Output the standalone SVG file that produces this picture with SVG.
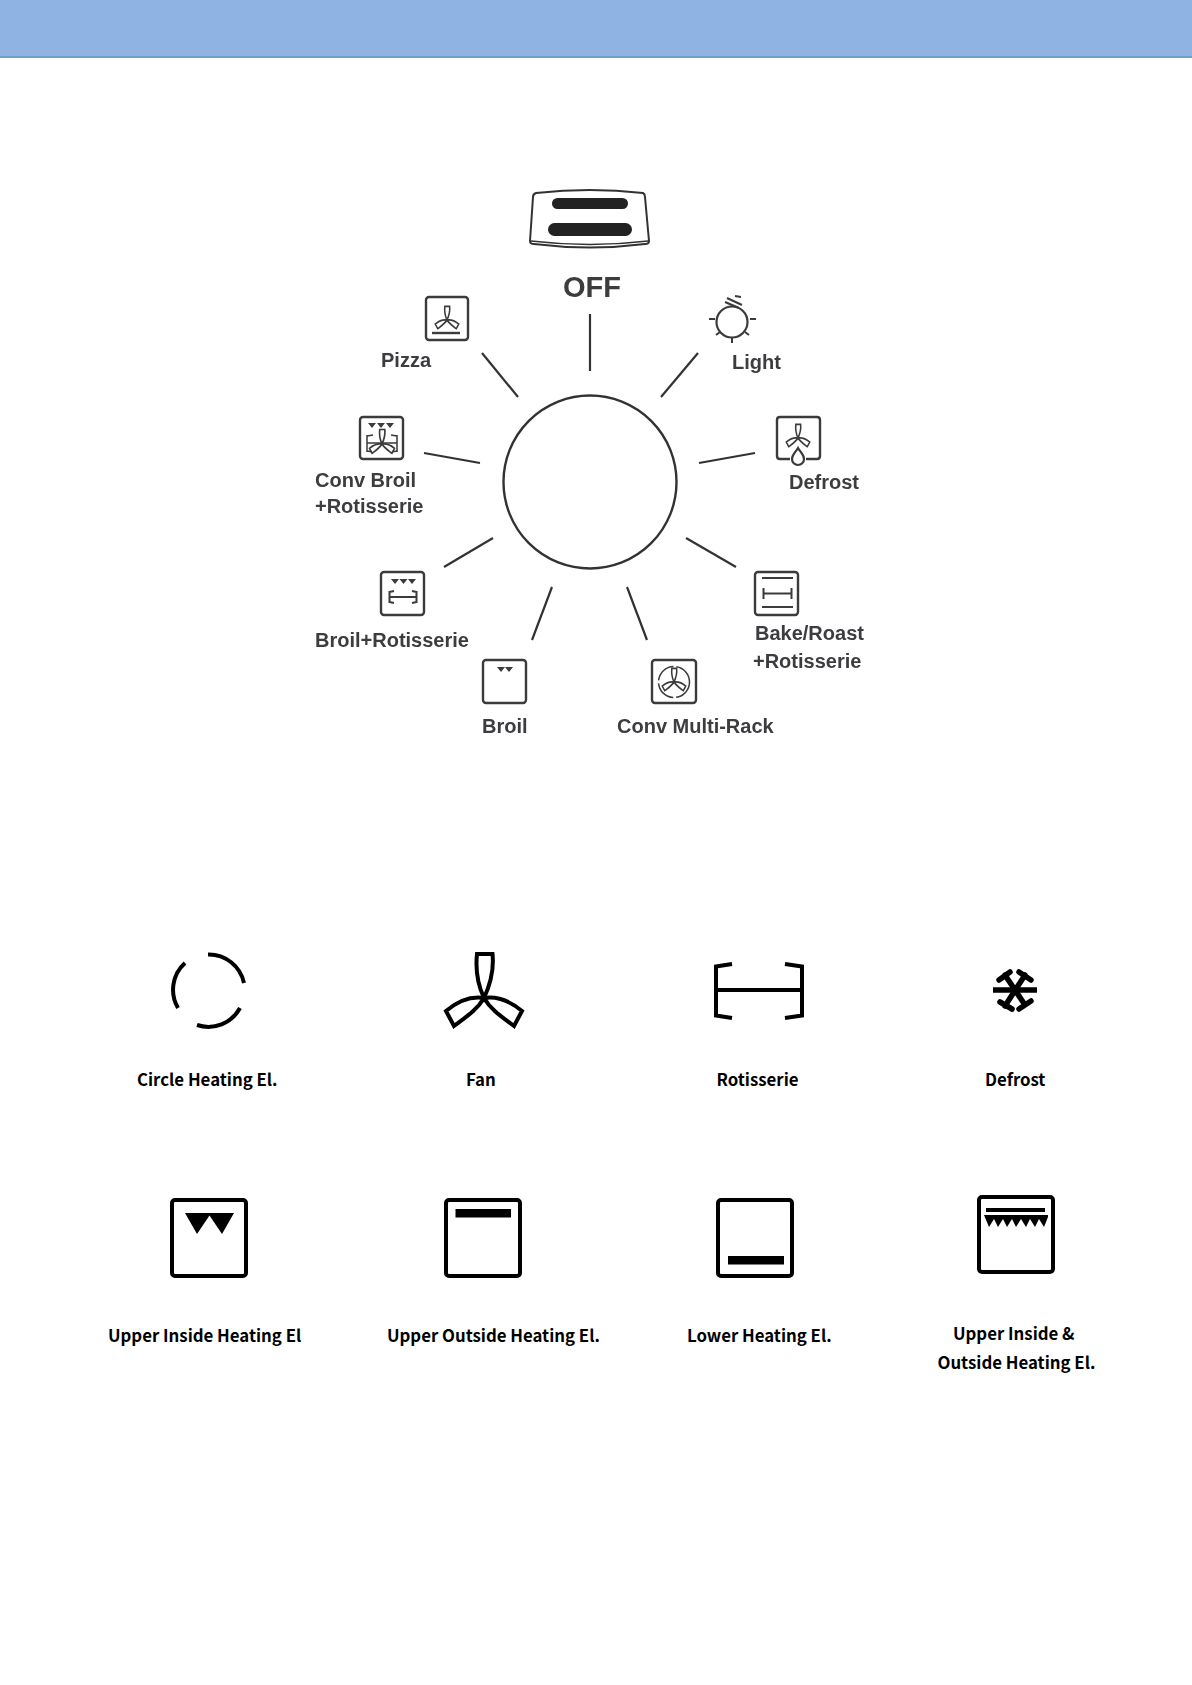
<svg xmlns="http://www.w3.org/2000/svg" xmlns:xlink="http://www.w3.org/1999/xlink" width="1192" height="1685" viewBox="0 0 1192 1685">
<style>
.d{font-family:"Liberation Sans",Arial,sans-serif;font-weight:700;font-size:20px;fill:#3c3c40}
.b{font-family:"Noto Sans CJK SC","Noto Sans",sans-serif;font-weight:700;font-size:16.8px;fill:#000;text-anchor:start}
.s{fill:none;stroke:#3a3a3a;stroke-width:2}
.box{fill:#fff;stroke:#3a3a3a;stroke-width:2.4}
.c{fill:none;stroke:#333;stroke-width:2.2}
.k{fill:none;stroke:#000;stroke-width:4}
.kb{fill:#fff;stroke:#000;stroke-width:4}
.f{fill:#3a3a3a}
</style>
<defs>
<filter id="soft" x="-5%" y="-5%" width="110%" height="110%"><feGaussianBlur stdDeviation="0.5"/></filter>
<path id="fan" d="M0 0C-6-13-8.500-30-7-44H8.500C10-30 6-13 0 0ZM0 0C-13-2-26 3-38 13L-30 28C-18 19-7 12 0 0ZM0 0C13-2 26 3 38 13L30 28C18 19 7 12 0 0Z"/>
</defs>
<rect id="banner" x="0" y="0" width="1192" height="56" fill="#8fb4e3"/>
<rect x="0" y="56" width="1192" height="2" fill="#709fc6"/>
<g filter="url(#soft)">
<g id="connectors" class="c">
<path d="M590 314V371"/><path d="M482 353L518 397"/><path d="M424 453L480 463"/><path d="M698 353L661 397"/><path d="M699 463L755 453"/><path d="M444 567L493 538"/><path d="M552 587L532 640"/><path d="M627 587L647 640"/><path d="M686 538L736 567"/>
</g>
<g id="dial"><circle cx="590" cy="482" r="86.500" fill="none" stroke="#333" stroke-width="2.400"/></g>
<g id="off">
<path d="M536 193Q590 187 643 193Q645 194 645 197L649 241Q649 244 645 244Q590 251 534 244Q530 244 530 241L533 197Q533 194 536 193Z" fill="#fff" stroke="#333" stroke-width="2"/>
<path d="M531 241Q590 248 648 241" fill="none" stroke="#333" stroke-width="1.400"/>
<rect x="552" y="198" width="76" height="11" rx="5.500" fill="#222"/>
<rect x="548" y="223" width="84" height="13" rx="6.500" fill="#222"/>
<text class="d" x="563" y="297" style="font-size:29px">OFF</text>
</g>
<g id="pizza">
<rect class="box" x="426" y="297" width="42" height="43" rx="3"/>
<use href="#fan" transform="translate(447 320) scale(.31)" class="s" style="stroke-width:5"/>
<path class="s" d="M432 333H460" style="stroke-width:2.400"/>
<text class="d" x="381" y="367">Pizza</text>
</g>
<g id="light">
<circle class="s" cx="732" cy="322" r="15.500" style="stroke-width:2.200"/>
<path class="s" d="M709 319H715M750 319H756M732 338V343M716 335L720 332M745 332L749 335M725 302L739 308M727 298L742 305M735 296L741 297"/>
<text class="d" x="732" y="369">Light</text>
</g>
<g id="defrost">
<path class="s" d="M790 459H780Q777 459 777 456V420Q777 417 780 417H817Q820 417 820 420V456Q820 459 817 459H806" style="stroke-width:2.400"/>
<use href="#fan" transform="translate(798 438) scale(.31)" class="s" style="stroke-width:5"/>
<path class="s" d="M798 448C795 453 792 455 792 459A6 6 0 0 0 804 459C804 455 801 453 798 448Z" style="stroke-width:2.200"/>
<text class="d" x="789" y="489">Defrost</text>
</g>
<g id="conv-broil">
<rect class="box" x="360" y="417" width="43" height="42" rx="3"/>
<path class="f" d="M368 423H376L372 428ZM377 423H385L381 428ZM386 423H394L390 428Z"/>
<path class="s" d="M367 435V452M367 443H397M397 435V452M367 436L373 435M367 451L373 452M397 436L391 435M397 451L391 452" style="stroke-width:1.500"/>
<use href="#fan" transform="translate(382 444) scale(.33)" style="fill:#fff;stroke:#3a3a3a;stroke-width:5"/>
<text class="d" x="315" y="487">Conv Broil</text>
<text class="d" x="315" y="513">+Rotisserie</text>
</g>
<g id="broil-rotisserie">
<rect class="box" x="381" y="572" width="43" height="43" rx="3"/>
<path class="f" d="M391 579H399L395 584ZM399.500 579H407.500L403.500 584ZM408 579H416L412 584Z"/>
<path class="s" d="M389.500 591V603M389.500 597H416.500M416.500 591V603M389.500 592L394 591M389.500 602L394 603M416.500 592L412 591M416.500 602L412 603"/>
<text class="d" x="315" y="647">Broil+Rotisserie</text>
</g>
<g id="broil">
<rect class="box" x="483" y="660" width="43" height="43" rx="3"/>
<path class="f" d="M497 667H505L501 672ZM505 667H513L509 672Z"/>
<text class="d" x="482" y="733">Broil</text>
</g>
<g id="conv-multi-rack">
<rect class="box" x="652" y="660" width="44" height="43" rx="3"/>
<circle cx="674" cy="682" r="15.500" fill="none" stroke="#3a3a3a" stroke-width="1.500" stroke-dasharray="22 3"/>
<use href="#fan" transform="translate(674 682) scale(.31)" class="s" style="stroke-width:5"/>
<text class="d" x="617" y="733">Conv Multi-Rack</text>
</g>
<g id="bake-roast-rotisserie">
<rect class="box" x="755" y="572" width="43" height="43" rx="3"/>
<path class="s" d="M762 578H793M762 607H793M763.500 588V599M763.500 593.500H791.500M791.500 588V599"/>
<text class="d" x="755" y="640">Bake/Roast</text>
<text class="d" x="753" y="668">+Rotisserie</text>
</g>
</g>
<g id="circle-heating">
<path class="k" d="M208 954.500A36 36 0 0 1 244 983M240 1008A36 36 0 0 1 197 1025M178 1008A36 36 0 0 1 185 963"/>
<text class="b" x="137" y="1086">Circle Heating El.</text>
</g>
<g id="fan-el">
<use href="#fan" transform="translate(484 998)" class="k"/>
<text class="b" x="466" y="1086">Fan</text>
</g>
<g id="rotisserie">
<path class="k" d="M732 964L716 966.500V1015.500L732 1018M785 964L802 966.500V1015.500L785 1018M716 990H802"/>
<text class="b" x="716.500" y="1086">Rotisserie</text>
</g>
<g id="defrost-el">
<path class="k" d="M993 990H1037" style="stroke-width:5.500"/>
<path class="k" d="M1005 975L1025 1005M1025 975L1005 1006M999 980L1010 972M1019 972L1031 980M1000 1002L1012 1009M1019 1009L1031 1001" stroke-linecap="round" style="stroke-width:5.500"/>
<text class="b" x="985" y="1086">Defrost</text>
</g>
<g id="upper-inside">
<rect class="kb" x="172" y="1200" width="74" height="76" rx="3"/>
<path d="M185 1213H234L222 1234L209.500 1215.500L197 1234Z" fill="#000"/>
<text class="b" x="108" y="1342">Upper Inside Heating El</text>
</g>
<g id="upper-outside">
<rect class="kb" x="446" y="1200" width="74" height="76" rx="3"/>
<rect x="455.500" y="1209" width="55.500" height="8.500" fill="#000"/>
<text class="b" x="387" y="1342">Upper Outside Heating El.</text>
</g>
<g id="lower">
<rect class="kb" x="718" y="1200" width="74" height="76" rx="3"/>
<rect x="728" y="1256" width="56" height="8.500" fill="#000"/>
<text class="b" x="687" y="1342">Lower Heating El.</text>
</g>
<g id="upper-both">
<rect class="kb" x="979" y="1197" width="74" height="75" rx="3"/>
<rect x="986" y="1208" width="59" height="4" fill="#000"/>
<path d="M984 1215H1048V1217L1044 1227L1039 1219L1035 1227L1030 1219L1026 1227L1021 1219L1016 1227L1012 1219L1007 1227L1003 1219L998 1227L994 1219L989 1227Z" fill="#000"/>
<text class="b" x="953" y="1340">Upper Inside &amp;</text>
<text class="b" x="937.500" y="1369">Outside Heating El.</text>
</g>
</svg>
